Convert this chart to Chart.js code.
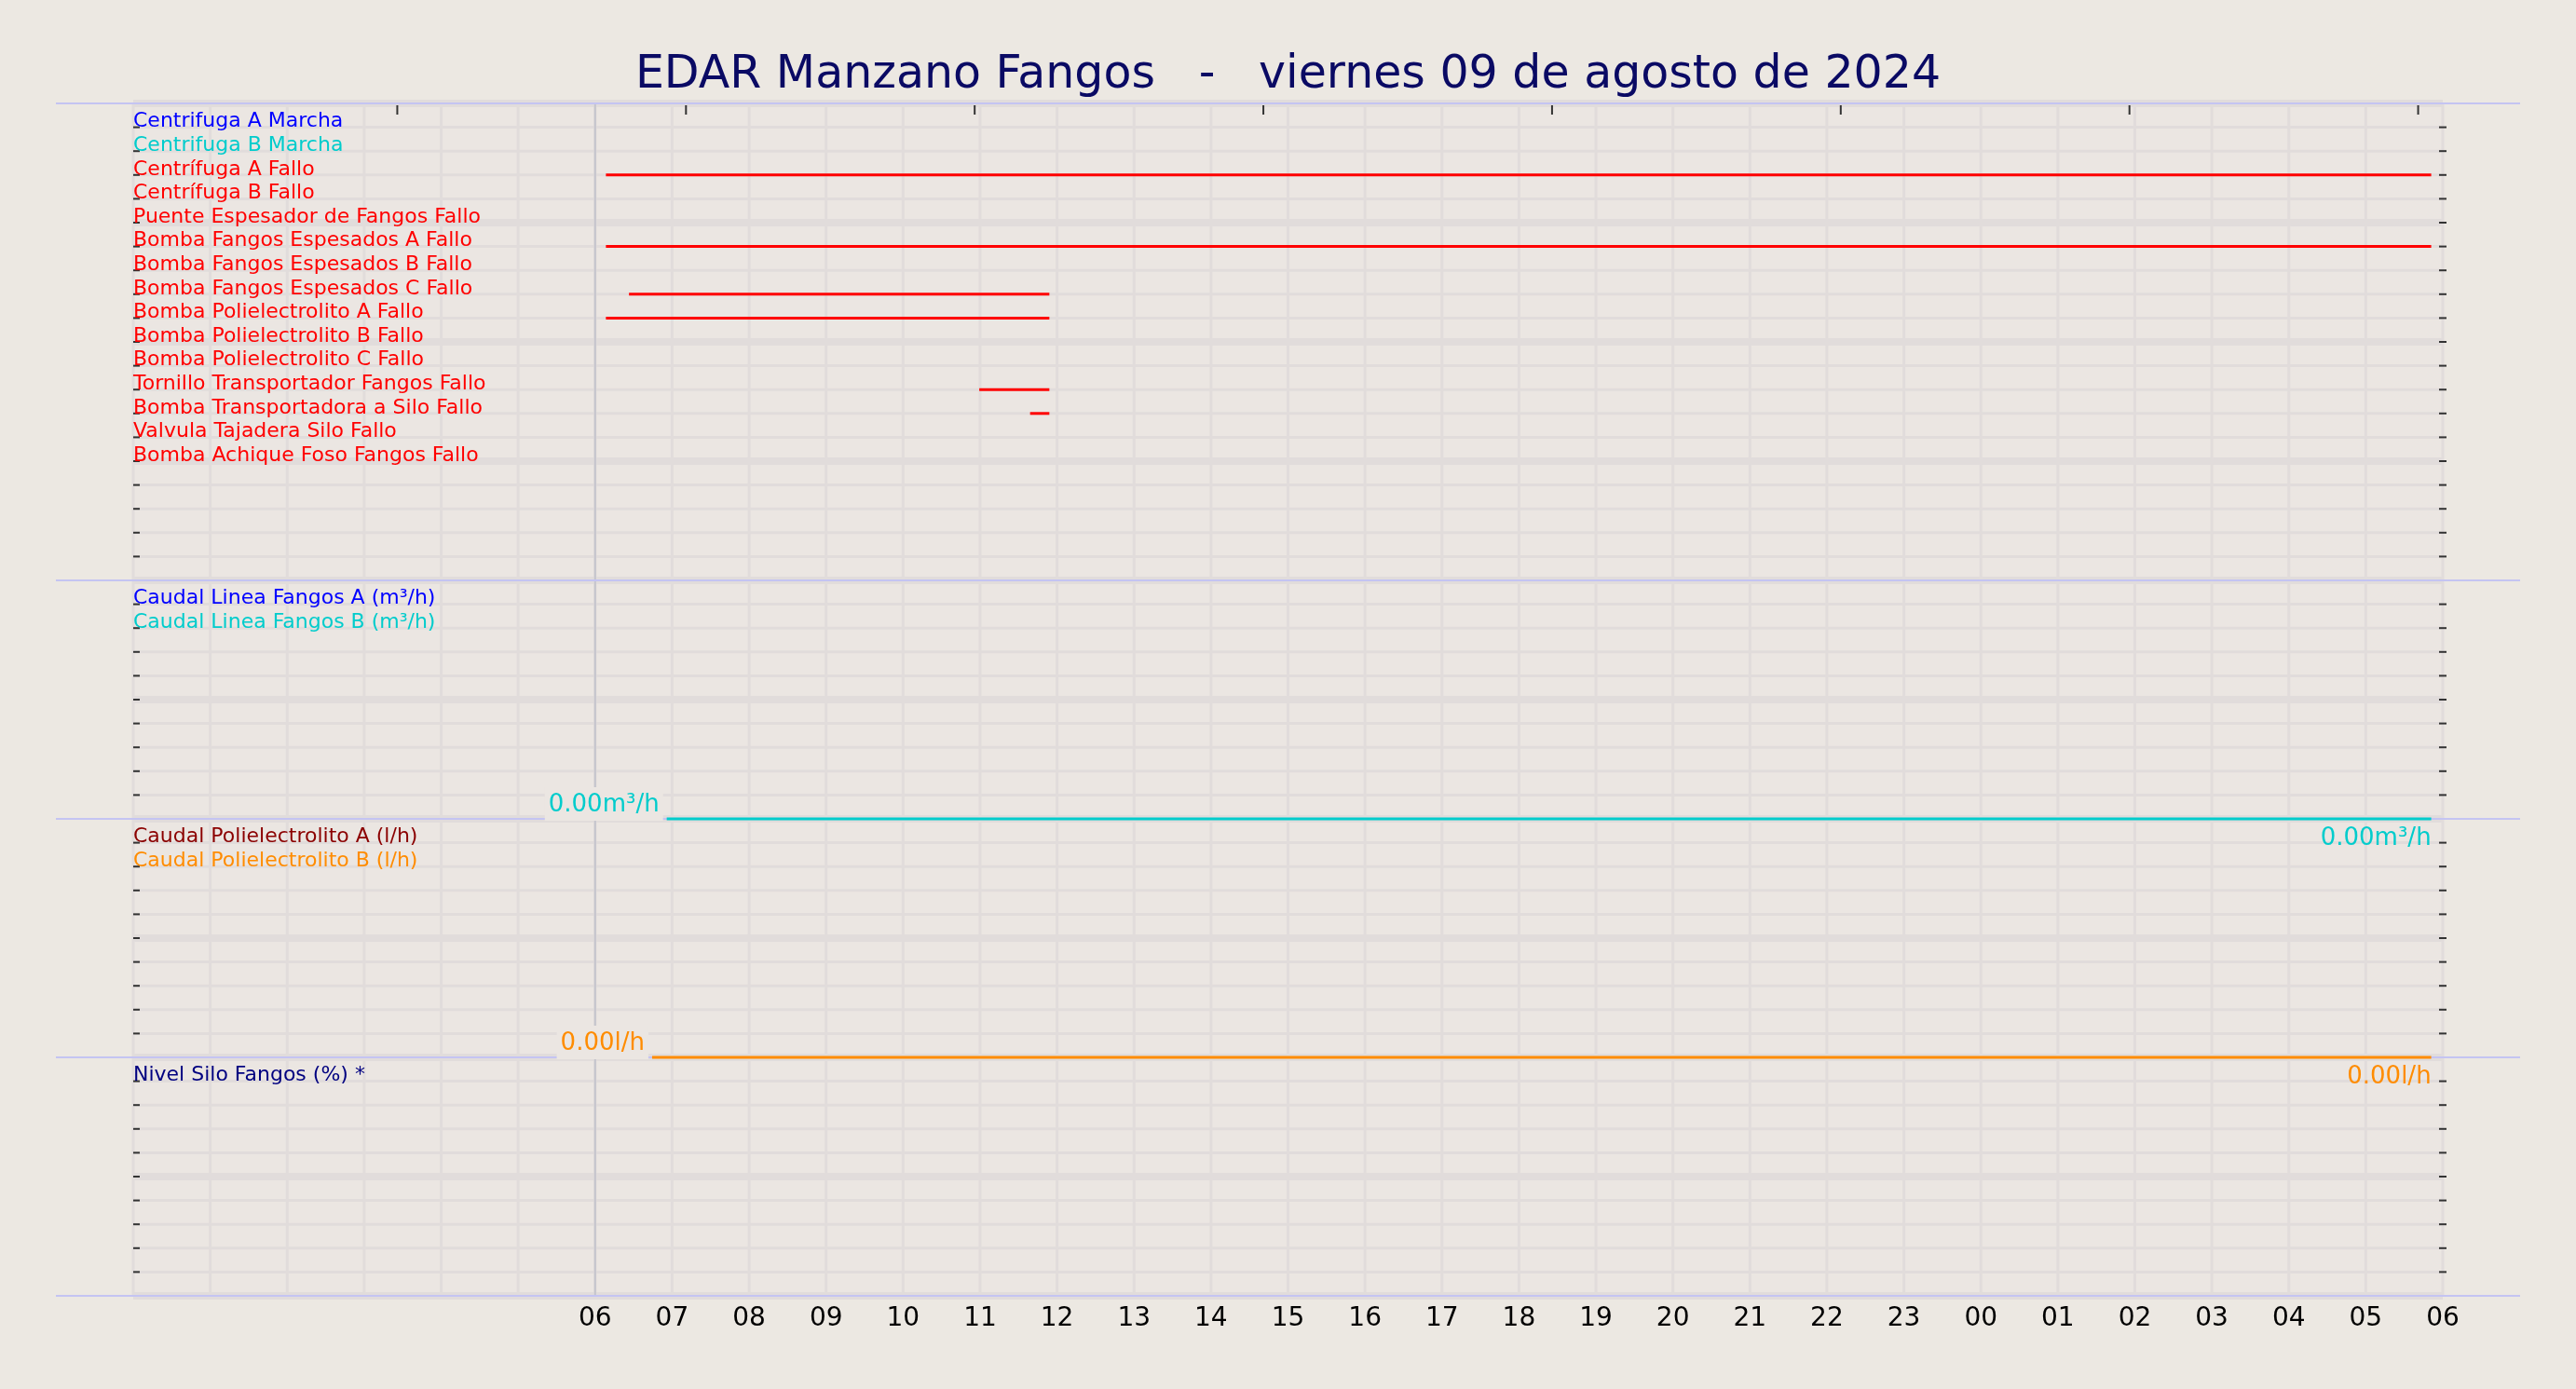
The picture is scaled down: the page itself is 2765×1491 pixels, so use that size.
<!DOCTYPE html>
<html>
<head>
<meta charset="utf-8">
<script src="https://cdn.jsdelivr.net/npm/chart.js@4.4.1/dist/chart.umd.min.js"></script>
<style>
  body { margin: 0; background: #ece8e2; }
  #wrap { width: 2765px; height: 1491px; }
</style>
</head>
<body>
<div id="wrap"><canvas id="mainChart" width="2765" height="1491"></canvas></div>
<script>
// hours from 00:00 of 09/08/2024; 6 = 06:00, 30 = 06:00 next day
let hourLabels = ['06','07','08','09','10','11','12','13','14','15','16','17','18','19','20','21','22','23','00','01','02','03','04','05','06'];

let signalNames = ['Centrifuga A Marcha', 'Centrifuga B Marcha', 'Centrífuga A Fallo', 'Centrífuga B Fallo',
    'Puente Espesador de Fangos Fallo', 'Bomba Fangos Espesados A Fallo', 'Bomba Fangos Espesados B Fallo',
    'Bomba Fangos Espesados C Fallo', 'Bomba Polielectrolito A Fallo', 'Bomba Polielectrolito B Fallo',
    'Bomba Polielectrolito C Fallo', 'Tornillo Transportador Fangos Fallo', 'Bomba Transportadora a Silo Fallo',
    'Valvula Tajadera Silo Fallo', 'Bomba Achique Foso Fangos Fallo'];
let signalColors = ['#0000ff', '#00cccc', '#ff0000', '#ff0000', '#ff0000', '#ff0000', '#ff0000', '#ff0000',
    '#ff0000', '#ff0000', '#ff0000', '#ff0000', '#ff0000', '#ff0000', '#ff0000'];
// active periods [start, end] in hours, per signal (empty = never active)
let signalOn = [[], [], [6.14, 29.85], [], [], [6.14, 29.85], [], [6.44, 11.9], [6.14, 11.9], [], [],
    [10.99, 11.9], [11.65, 11.9], [], []];

let flowNames = ['Caudal Linea Fangos A (m³/h)', 'Caudal Linea Fangos B (m³/h)'];
let flowColors = ['#0000ff', '#00cccc'];
let flowStart = 6.93, flowEnd = 29.85, flowValue = 0.00;

let poliNames = ['Caudal Polielectrolito A (l/h)', 'Caudal Polielectrolito B (l/h)'];
let poliColors = ['#8b0000', '#ff8c00'];
let poliStart = 6.74, poliEnd = 29.85, poliValue = 0.00;

let siloNames = ['Nivel Silo Fangos (%) *'];
let siloColors = ['#000080'];

// rows: panel1 0..20, panel2 20..30, panel3 30..40, panel4 40..50
let datasets = [];
signalOn.forEach(function (p, i) {
    if (p.length) {
        datasets.push({ data: [{x: p[0], y: i + 1}, {x: p[1], y: i + 1}], borderColor: signalColors[i], borderWidth: 3, pointRadius: 0 });
    }
});
datasets.push({ data: [{x: flowStart, y: 30 - flowValue}, {x: flowEnd, y: 30 - flowValue}], borderColor: '#00cccc', borderWidth: 3, pointRadius: 0 });
datasets.push({ data: [{x: poliStart, y: 40 - poliValue}, {x: poliEnd, y: 40 - poliValue}], borderColor: '#ff8c00', borderWidth: 3, pointRadius: 0 });

let font = '"DejaVu Sans", sans-serif';

let backPlugin = {
    id: 'back',
    beforeDatasetsDraw(chart) {
        let c = chart.ctx, a = chart.chartArea, xs = chart.scales.x, ys = chart.scales.y;
        c.save();
        c.fillStyle = '#ebe6e2';
        c.fillRect(a.left, a.top, a.right - a.left, a.bottom - a.top);
        c.strokeStyle = '#e1dcdb';
        for (let h = 0; h <= 30; h++) {
            let x = xs.getPixelForValue(h);
            c.lineWidth = 3;
            c.beginPath(); c.moveTo(x, a.top); c.lineTo(x, a.bottom); c.stroke();
        }
        for (let r = 0; r <= 50; r++) {
            let y = ys.getPixelForValue(r);
            c.lineWidth = r % 5 === 0 ? 8 : 3;
            c.beginPath(); c.moveTo(a.left, y); c.lineTo(a.right, y); c.stroke();
            c.strokeStyle = '#333'; c.lineWidth = 2;
            c.beginPath(); c.moveTo(a.right - 4, y); c.lineTo(a.right + 4, y); c.stroke();
            c.beginPath(); c.moveTo(a.left, y); c.lineTo(a.left + 7, y); c.stroke();
            c.strokeStyle = '#e1dcdb';
        }
        // top ticks
        c.strokeStyle = '#333'; c.lineWidth = 2;
        for (let t = 3.43; t < 30; t += 3.75) {
            let x = xs.getPixelForValue(t);
            c.beginPath(); c.moveTo(x, a.top + 2); c.lineTo(x, a.top + 12); c.stroke();
        }
        // 06 marker
        c.strokeStyle = '#c4c4cc'; c.lineWidth = 2;
        let x6 = xs.getPixelForValue(6);
        c.beginPath(); c.moveTo(x6, a.top); c.lineTo(x6, a.bottom); c.stroke();
        // panel separators
        c.strokeStyle = '#c4c4f2'; c.lineWidth = 2;
        [0, 20, 30, 40, 50].forEach(function (r) {
            let y = ys.getPixelForValue(r);
            c.beginPath(); c.moveTo(60, y); c.lineTo(2705, y); c.stroke();
        });
        c.restore();
    },
    afterDatasetsDraw(chart) {
        let c = chart.ctx, a = chart.chartArea, xs = chart.scales.x, ys = chart.scales.y;
        c.save();
        c.font = '22px ' + font;
        c.textBaseline = 'bottom';
        c.textAlign = 'left';
        function names(list, colors, first) {
            list.forEach(function (n, i) {
                c.fillStyle = colors[i];
                c.fillText(n, a.left, ys.getPixelForValue(first + i) + 5);
            });
        }
        names(signalNames, signalColors, 1);
        names(flowNames, flowColors, 21);
        names(poliNames, poliColors, 31);
        names(siloNames, siloColors, 41);

        function valueLabel(txt, color, start, end, row) {
            c.font = '26px ' + font;
            let w = c.measureText(txt).width;
            let x0 = xs.getPixelForValue(start) - 8, y = ys.getPixelForValue(row);
            c.fillStyle = '#ebe6e2';
            c.fillRect(x0 - w - 4, y - 34, w + 8, 36);
            c.fillStyle = color;
            c.textAlign = 'right'; c.textBaseline = 'bottom';
            c.fillText(txt, x0, y - 2);
            c.textBaseline = 'top';
            c.fillText(txt, xs.getPixelForValue(end), y + 8);
        }
        valueLabel(flowValue.toFixed(2) + 'm³/h', '#00cccc', flowStart, flowEnd, 30);
        valueLabel(poliValue.toFixed(2) + 'l/h', '#ff8c00', poliStart, poliEnd, 40);

        c.fillStyle = '#000';
        c.font = '28px ' + font;
        c.textAlign = 'center'; c.textBaseline = 'middle';
        hourLabels.forEach(function (l, i) {
            c.fillText(l, xs.getPixelForValue(6 + i), a.bottom + 25);
        });
        c.fillStyle = '#0a0a64';
        c.font = '49px ' + font;
        c.fillText('EDAR Manzano Fangos   -   viernes 09 de agosto de 2024', 2765 / 2, 81);
        c.restore();
    }
};

let mainChartConfig = {
    type: 'line',
    data: { datasets: datasets },
    options: {
        responsive: false,
        animation: false,
        layout: { padding: { left: 143, right: 143, top: 111, bottom: 100 } },
        plugins: { legend: { display: false }, tooltip: { enabled: false } },
        scales: {
            x: { type: 'linear', min: 0, max: 30, display: false },
            y: { type: 'linear', min: 0, max: 50, reverse: true, display: false }
        }
    },
    plugins: [backPlugin]
};

let ctx = document.getElementById('mainChart').getContext('2d');
window.myChart = new Chart(ctx, mainChartConfig);
</script>
</body>
</html>
